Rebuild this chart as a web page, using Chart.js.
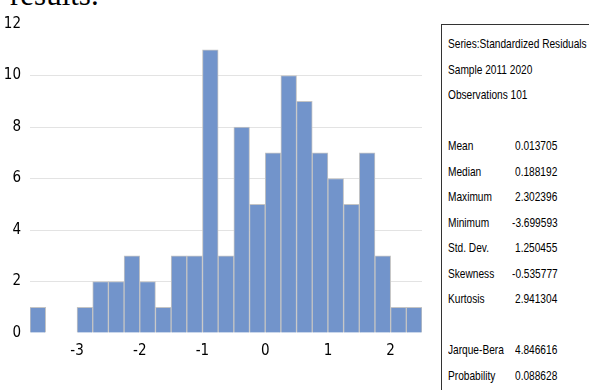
<!DOCTYPE html>
<html>
<head>
<meta charset="utf-8">
<script src="https://cdn.jsdelivr.net/npm/chart.js@4/dist/chart.umd.min.js"></script>
<style>
  body { margin: 0; background: #fff; width: 589px; height: 390px; overflow: hidden; position: relative; }
  #head { position: absolute; left: 10px; top: -21px; font-family: "Liberation Serif", serif; font-size: 31px; line-height: 31px; color: #000; white-space: nowrap; }
  #hist { position: absolute; left: 0; top: 0; }
  #stats { position: absolute; left: 441px; top: 24px; width: 200px; height: 400px; border: 1px solid #333; box-sizing: border-box;
           font-family: "Liberation Sans", sans-serif; font-size: 13px; color: #000; padding: 6px 0 0 6px; }
  #stats .row { height: 25.5px; line-height: 25.5px; white-space: nowrap; position: relative; }
  #stats .lab, #stats .val { position: absolute; top: 0; transform: scaleX(0.78); transform-origin: left center; }
  #stats .lab { left: 0; }
  #stats .val { left: 67px; }
</style>
</head>
<body>
<div id="head">results.</div>
<canvas id="hist" width="440" height="390"></canvas>
<div id="stats"></div>
<script>
// bin left edges (width 0.25) and counts
var binStarts = [-3.75, -3.5, -3.25, -3.0, -2.75, -2.5, -2.25, -2.0, -1.75, -1.5, -1.25, -1.0, -0.75,
                 -0.5, -0.25, 0, 0.25, 0.5, 0.75, 1.0, 1.25, 1.5, 1.75, 2.0, 2.25];
var counts = [1, 0, 0, 1, 2, 2, 3, 2, 1, 3, 3, 11, 3, 8, 5, 7, 10, 9, 7, 6, 5, 7, 3, 1, 1];
var xTicks = [-3, -2, -1, 0, 1, 2];

var headerLines = ["Series:Standardized Residuals", "Sample 2011 2020", "Observations 101"];
var statNames = ["Mean", "Median", "Maximum", "Minimum", "Std. Dev.", "Skewness", "Kurtosis"];
var statValues = ["0.013705", "0.188192", "2.302396", "-3.699593", "1.250455", "-0.535777", "2.941304"];
var testNames = ["Jarque-Bera", "Probability"];
var testValues = ["4.846616", "0.088628"];

// stats box
var box = document.getElementById("stats");
function addRow(label, value) {
  var r = document.createElement("div");
  r.className = "row";
  var l = document.createElement("span");
  l.className = "lab";
  l.textContent = label;
  r.appendChild(l);
  if (value !== undefined) {
    var v = document.createElement("span");
    v.className = "val";
    v.textContent = value;
    if (value.charAt(0) === "-") v.style.left = "64px";
    r.appendChild(v);
  }
  box.appendChild(r);
}
headerLines.forEach(function (t) { addRow(t); });
addRow("\u00a0");
statNames.forEach(function (t, i) { addRow(t, statValues[i]); });
addRow("\u00a0");
testNames.forEach(function (t, i) { addRow(t, testValues[i]); });

var tickFont = { family: "'DejaVu Sans Condensed', 'Liberation Sans', sans-serif", size: 15 };

var ctx = document.getElementById("hist");
var hist = new Chart(ctx, {
  type: "bar",
  data: {
    datasets: [
      {
        data: binStarts.map(function (b, i) { return { x: b + 0.125, y: counts[i] }; }),
        backgroundColor: "#7294cb",
        borderColor: "#c4c4c4",
        borderWidth: 1,
        barPercentage: 1,
        categoryPercentage: 1,
      },
    ],
  },
  options: {
    responsive: false,
    animation: false,
    layout: { padding: { top: 24, right: 18, left: 0, bottom: 0 } },
    plugins: {
      legend: { display: false },
      tooltip: { enabled: false },
    },
    scales: {
      x: {
        type: "linear",
        offset: false,
        min: -3.75,
        max: 2.5,
        grid: { display: false, drawTicks: false },
        border: { display: false },
        afterBuildTicks: function (scale) {
          scale.ticks = xTicks.map(function (v) { return { value: v }; });
        },
        afterFit: function (scale) { scale.height = 57; },
        ticks: { color: "#000", font: tickFont, padding: 9, maxRotation: 0 },
      },
      y: {
        min: 0,
        max: 12,
        grid: {
          drawTicks: false,
          color: function (c) {
            return c.tick && (c.tick.value === 0 || c.tick.value === 12) ? "rgba(0,0,0,0)" : "#e3e3e3";
          },
        },
        border: { display: false },
        afterFit: function (scale) { scale.width = 30; },
        ticks: { stepSize: 2, color: "#000", font: tickFont, padding: 9 },
      },
    },
  },
});
</script>
</body>
</html>
